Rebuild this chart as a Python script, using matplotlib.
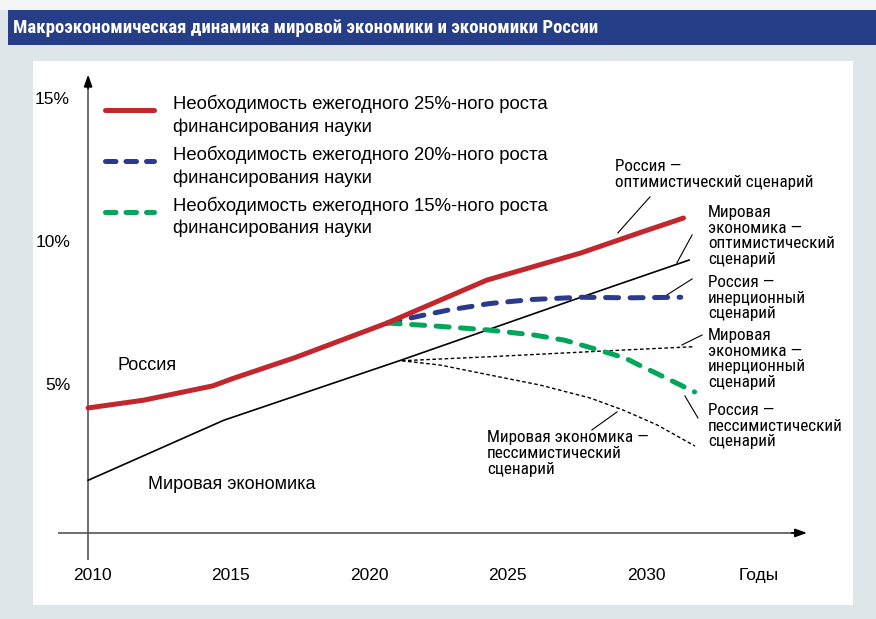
import matplotlib
matplotlib.use("Agg")
import numpy as np
import matplotlib.pyplot as plt
from matplotlib.patches import Rectangle
from matplotlib.transforms import offset_copy
from matplotlib.legend_handler import HandlerLine2D

# ---- data (years, % growth)
rus_opt_x = [2010, 2012, 2014.5, 2015.2, 2017.5, 2020.8, 2024.4, 2027.8, 2029.9, 2031.5]
rus_opt_y = [4.23, 4.5, 5.0, 5.25, 6.0, 7.2, 8.7, 9.65, 10.35, 10.87]

rus_inert_x = [2020.8, 2022.0, 2023.0, 2024.5, 2026.0, 2027.8, 2029.5, 2031.4]
rus_inert_y = [7.2, 7.45, 7.65, 7.88, 8.02, 8.1, 8.08, 8.1]

rus_pess_x = [2020.8, 2022.45, 2024.4, 2026.1, 2027.2, 2028.1, 2028.9, 2029.4, 2030.0, 2030.5, 2031.9]
rus_pess_y = [7.2, 7.1, 6.96, 6.78, 6.6, 6.35, 6.12, 5.97, 5.68, 5.45, 4.79]

world_opt_x = [2010, 2014.9, 2021.3, 2027.5, 2031.7]
world_opt_y = [1.7, 3.8, 5.9, 8.0, 9.4]

world_inert_x = [2021.33, 2024.5, 2028.6, 2031.84]
world_inert_y = [5.88, 6.02, 6.22, 6.37]

world_pess_x = [2021.33, 2022.71, 2024.51, 2026.32, 2028.12, 2029.31, 2030.54, 2031.91]
world_pess_y = [5.88, 5.73, 5.38, 5.03, 4.58, 4.16, 3.64, 2.90]

years = [2010, 2015, 2020, 2025, 2030]
pct_ticks = [5, 10, 15]

title = "Макроэкономическая динамика мировой экономики и экономики России"
legend_labels = [
    "Необходимость ежегодного 25%-ного роста\nфинансирования науки",
    "Необходимость ежегодного 20%-ного роста\nфинансирования науки",
    "Необходимость ежегодного 15%-ного роста\nфинансирования науки",
]

# annotation text, text anchor (year, %), leader line start/end
notes = [
    ("Россия —\nоптимистический сценарий", (2029.03, 12.94), (2030.29, 11.61), (2029.13, 10.35)),
    ("Мировая\nэкономика —\nоптимистический\nсценарий", (2032.38, 11.33), (2031.81, 10.28), (2031.26, 9.30)),
    ("Россия —\nинерционный\nсценарий", (2032.38, 8.88), (2031.81, 8.74), (2030.90, 8.18)),
    ("Мировая\nэкономика —\nинерционный\nсценарий", (2032.38, 7.03), (2032.17, 6.78), (2031.44, 6.43)),
    ("Россия —\nпессимистический\nсценарий", (2032.38, 4.41), (2031.55, 4.65), (2032.02, 3.88)),
    ("Мировая экономика —\nпессимистический\nсценарий", (2024.40, 3.45), (2029.10, 4.09), (2028.19, 3.46)),
]

RED = "#c1272d"
BLUE = "#2b3a8c"
GREEN = "#00a65a"
SANS = ["Liberation Sans", "DejaVu Sans"]
NARROW = ["Roboto Condensed", "PT Sans Narrow", "DejaVu Sans"]


class FirstLineHandler(HandlerLine2D):
    # legend key sits next to the first line of a two-line label
    def create_artists(self, legend, orig_handle, xdescent, ydescent, width, height, fontsize, trans):
        arts = super().create_artists(legend, orig_handle, xdescent, ydescent, width, height, fontsize, trans)
        for a in arts:
            a.set_ydata(np.asarray(a.get_ydata()) + 0.28 * fontsize)
        return arts


W, H = 876, 619
fig = plt.figure(figsize=(W / 100, H / 100), dpi=100, facecolor="#dfe6ea")

# top strip + title bar
fig.patches.append(Rectangle((0, 1 - 10 / H), 1, 10 / H, transform=fig.transFigure,
                             facecolor="#f3f5f6", edgecolor="none"))
fig.patches.append(Rectangle((8 / W, 1 - 45 / H), 1, 35 / H, transform=fig.transFigure,
                             facecolor="#263d87", edgecolor="none"))
fig.text(13 / W, 1 - 28 / H, title, color="white", fontsize=13.5, fontweight="bold",
         family=NARROW, va="center", ha="left")

ax = fig.add_axes([33 / W, 1 - 605 / H, (853 - 33) / W, (605 - 61) / H])
ax.set_facecolor("white")
ax.set_xlim(2008.01, 2037.62)
ax.set_ylim(-2.66, 16.36)
for s in ax.spines.values():
    s.set_visible(False)
ax.set_xticks([])
ax.set_yticks([])

# axes with arrows
ax.plot([2010, 2010], [-1.08, 15.6], color="#555555", lw=1.2, solid_capstyle="butt")
ax.plot([2008.92, 2035.6], [-0.14, -0.14], color="#555555", lw=1.2, solid_capstyle="butt")
ax.annotate("", xy=(2010, 15.98), xytext=(2010, 15.3),
            arrowprops=dict(arrowstyle="-|>,head_length=0.7,head_width=0.25", color="black", lw=1.2))
ax.annotate("", xy=(2036.06, -0.14), xytext=(2035.3, -0.14),
            arrowprops=dict(arrowstyle="-|>,head_length=0.7,head_width=0.25", color="black", lw=1.2))

# tick labels
for yr in years:
    ax.text(yr, -1.64, str(yr), transform=offset_copy(ax.transData, fig=fig, x=4, y=0, units="dots"),
            ha="center", va="center", fontsize=12.5, family=SANS)
ax.text(2034.2, -1.64, "Годы", ha="center", va="center", fontsize=12.5, family=SANS)
for p in pct_ticks:
    ax.text(2010, p, f"{p}%", transform=offset_copy(ax.transData, fig=fig, x=-18, y=0, units="dots"),
            ha="right", va="center", fontsize=12.5, family=SANS)

# series
dash = (2.6, 2.3)
ax.plot(rus_opt_x, rus_opt_y, color=RED, lw=3.6, solid_capstyle="round", zorder=5)
ax.plot(rus_inert_x, rus_inert_y, color=BLUE, lw=3.6, dashes=dash, dash_capstyle="round", zorder=4)
ax.plot(rus_pess_x, rus_pess_y, color=GREEN, lw=3.6, dashes=dash, dash_capstyle="round", zorder=4)
ax.plot(world_opt_x, world_opt_y, color="black", lw=1.2, zorder=3)
ax.plot(world_inert_x, world_inert_y, color="black", lw=1.0, dashes=(2.6, 1.8), zorder=3)
ax.plot(world_pess_x, world_pess_y, color="black", lw=1.0, dashes=(2.6, 1.8), zorder=3)

# labels on the chart
ax.text(2011.05, 5.73, "Россия", fontsize=13, family=SANS, va="center", ha="left")
ax.text(2012.15, 1.54, "Мировая экономика", fontsize=13, family=SANS, va="center", ha="left")

for txt, pos, p0, p1 in notes:
    ax.text(pos[0], pos[1], txt, fontsize=12.3, family=NARROW, va="top", ha="left",
            linespacing=1.06)
    ax.plot([p0[0], p1[0]], [p0[1], p1[1]], color="black", lw=0.8)

# legend
leg_handles = [plt.Line2D([], [], color=RED, lw=3.6, solid_capstyle="round"),
               plt.Line2D([], [], color=BLUE, lw=3.6, dashes=(2.1, 2.0), dash_capstyle="round"),
               plt.Line2D([], [], color=GREEN, lw=3.6, dashes=(2.1, 2.0), dash_capstyle="round")]
leg = ax.legend(leg_handles, legend_labels, loc="upper left", bbox_to_anchor=(104.5 / W, 1 - 95 / H),
                bbox_transform=fig.transFigure, frameon=False, borderpad=0, borderaxespad=0,
                handlelength=2.7, handletextpad=1.0, labelspacing=0.55,
                handler_map={plt.Line2D: FirstLineHandler()},
                prop={"family": SANS, "size": 13.3})
for t in leg.get_texts():
    t.set_linespacing(1.36)

plt.savefig("out.png", dpi=100, facecolor=fig.get_facecolor())
